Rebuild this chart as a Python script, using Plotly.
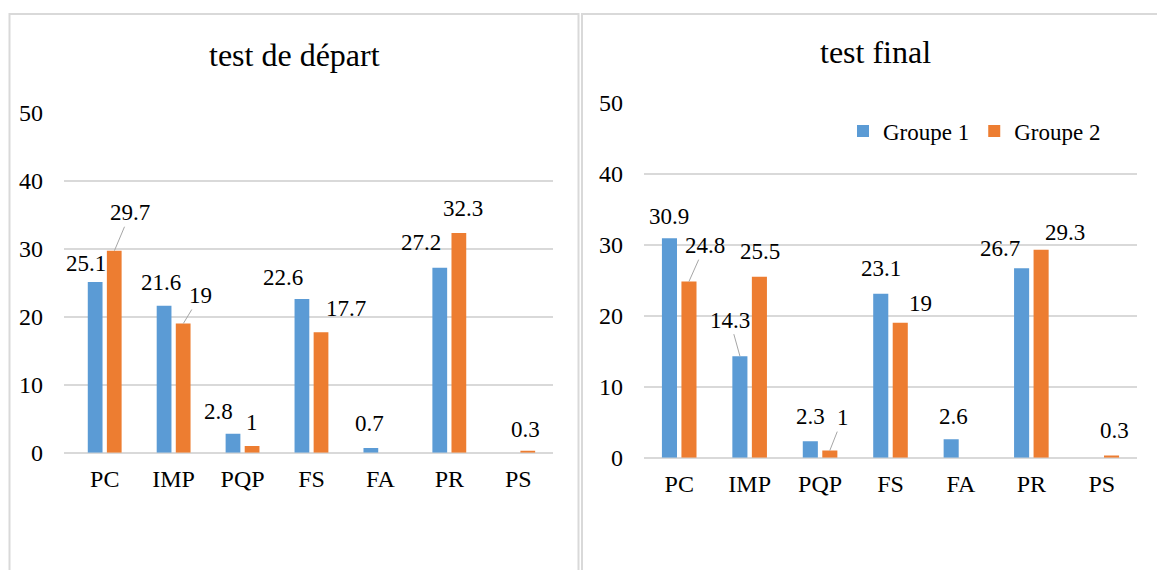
import plotly.graph_objects as go

# ---- data ----
categories = ["PC", "IMP", "PQP", "FS", "FA", "PR", "PS"]
depart_g1 = [25.1, 21.6, 2.8, 22.6, 0.7, 27.2, 0]
depart_g2 = [29.7, 19, 1, 17.7, 0, 32.3, 0.3]
final_g1 = [30.9, 14.3, 2.3, 23.1, 2.6, 26.7, 0]
final_g2 = [24.8, 25.5, 1, 19, 0, 29.3, 0.3]
series_names = ["Groupe 1", "Groupe 2"]
titles = ["test de départ", "test final"]
y_ticks = [0, 10, 20, 30, 40, 50]

# ---- label placement styles (pixel offsets of label centre from bar top centre) ----
# (dx, dy, leader) ; leader=True draws a leader line from bar top to the label
dep_g1_lbl = [(-9, 19, False), (-3, 23, False), (-14, 22, False), (-19, 22, False),
              (-1, 24, False), (-19, 25, False), None]
dep_g2_lbl = [(16, 38, True), (17, 28, True), (0, 23, False), (25, 24, False),
              None, (4, 25, False), (-2, 21, False)]
fin_g1_lbl = [(-1, 22, False), (-10, 36, True), (0, 25, False), (0, 25, False),
              (2, 23, False), (-22, 20, False), None]
fin_g2_lbl = [(16, 36, True), (1, 25, False), (13, 33, True), (20, 19.5, False),
              None, (24, 17, False), (3, 25, False)]

BLUE = "#5B9BD5"
ORANGE = "#ED7D31"
GRID = "#d9d9d9"
FONT = "Liberation Serif"
W, H = 1157, 570
BAR_OFF = 9.7

fig = go.Figure()

panels = [
    dict(g1=depart_g1, g2=depart_g2, l1=dep_g1_lbl, l2=dep_g2_lbl, xa="x", ya="y",
         xdom=[64 / W, 552.7 / W], ydom=[(H - 452.7) / H, (H - 112.7) / H],
         title_x=294, title_y=55),
    dict(g1=final_g1, g2=final_g2, l1=fin_g1_lbl, l2=fin_g2_lbl, xa="x2", ya="y2",
         xdom=[644 / W, 1137 / W], ydom=[(H - 457.7) / H, (H - 102.7) / H],
         title_x=875, title_y=52),
]

annotations = []
for pi, p in enumerate(panels):
    for si, (vals, color, lbls, off) in enumerate(
            [(p["g1"], BLUE, p["l1"], -BAR_OFF), (p["g2"], ORANGE, p["l2"], BAR_OFF)]):
        fig.add_trace(go.Bar(
            x=categories, y=vals, name=series_names[si], marker_color=color,
            marker_line_width=0, xaxis=p["xa"], yaxis=p["ya"],
            showlegend=(pi == 1), hoverinfo="skip"))
        for cat, v, lb in zip(categories, vals, lbls):
            if lb is None or v == 0:
                continue
            dx, dy, leader = lb
            txt = f"{v:g}"
            if leader:
                annotations.append(dict(
                    x=cat, y=v, xref=p["xa"], yref=p["ya"], text=txt,
                    xshift=off, showarrow=True, ax=dx, ay=-dy, arrowhead=0,
                    arrowwidth=1, arrowcolor="#a6a6a6", standoff=0,
                    font=dict(family=FONT, size=23, color="#000000")))
            else:
                annotations.append(dict(
                    x=cat, y=v, xref=p["xa"], yref=p["ya"], text=txt,
                    xshift=off + dx, yshift=dy, showarrow=False,
                    xanchor="center", yanchor="middle",
                    font=dict(family=FONT, size=23, color="#000000")))
    annotations.append(dict(
        x=p["title_x"] / W, y=(H - p["title_y"]) / H, xref="paper", yref="paper",
        text=titles[pi], showarrow=False, xanchor="center", yanchor="middle",
        font=dict(family=FONT, size=32, color="#000000")))

layout_axes = {}
for i, p in enumerate(panels):
    sx = "" if i == 0 else "2"
    layout_axes["xaxis" + sx] = dict(
        domain=p["xdom"], anchor=p["ya"], type="category", showgrid=False,
        showline=False, zeroline=False, ticks="", ticklabelstandoff=9,
        automargin=False,
        tickfont=dict(family=FONT, size=24, color="#000000"), fixedrange=True)
    layout_axes["yaxis" + sx] = dict(
        domain=p["ydom"], anchor=p["xa"], range=[0, 50], tickvals=y_ticks,
        showgrid=True, gridcolor=GRID, gridwidth=2, zeroline=True,
        zerolinecolor=GRID, zerolinewidth=2, showline=False, ticks="",
        ticklabelstandoff=20, automargin=False,
        tickfont=dict(family=FONT, size=24, color="#000000"), fixedrange=True)

shapes = [
    dict(type="rect", xref="paper", yref="paper", x0=9.5 / W, x1=578.5 / W,
         y0=-0.2, y1=(H - 14) / H, line=dict(color=GRID, width=2), fillcolor="rgba(0,0,0,0)"),
    dict(type="rect", xref="paper", yref="paper", x0=582 / W, x1=1.2,
         y0=-0.2, y1=(H - 14) / H, line=dict(color=GRID, width=2), fillcolor="rgba(0,0,0,0)"),
]

fig.update_layout(
    width=W, height=H, margin=dict(l=0, r=0, t=0, b=0, pad=0, autoexpand=False),
    paper_bgcolor="white", plot_bgcolor="white",
    barmode="group", bargap=0.446, bargroupgap=0.227,
    font=dict(family=FONT, color="#000000"),
    legend=dict(orientation="h", x=843 / W, y=(H - 131) / H, xanchor="left",
                yanchor="middle", font=dict(family=FONT, size=23, color="#000000"),
                bgcolor="rgba(0,0,0,0)", itemclick=False, itemdoubleclick=False),
    annotations=annotations, shapes=shapes, **layout_axes)

fig.write_html("out.html", config={"displayModeBar": False},
               post_script="document.body.style.margin='0px';")
